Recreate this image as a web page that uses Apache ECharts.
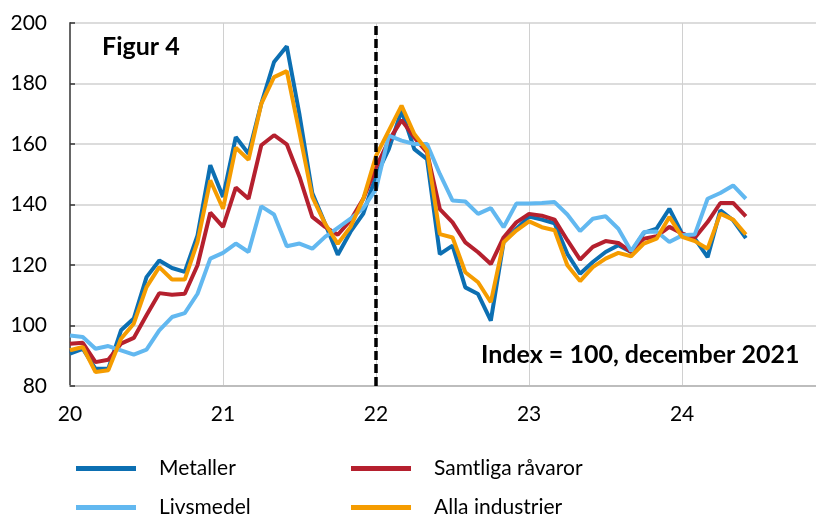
<!DOCTYPE html>
<html><head><meta charset="utf-8">
<script src="https://cdn.jsdelivr.net/npm/echarts@6/dist/echarts.min.js"></script>
<style>html,body{margin:0;padding:0;background:#fff}#c{width:816px;height:519px}</style>
</head><body><div id="c"></div>
<script>
const startYear = 20;
const metaller = [90.7, 92.3, 85.7, 85.7, 98.4, 102.3, 116, 121.5, 119, 117.7, 129.8, 153, 142.5, 162.3, 156.8, 173.3, 187.1, 192.3, 169.6, 143.8, 133.7, 123.4, 131, 137, 149.5, 158.3, 171, 158.3, 155, 123.6, 126.4, 112.6, 110.4, 101.6, 127.5, 131.9, 136, 135, 133.8, 123.7, 117.1, 121, 124.3, 126.5, 124.3, 130.6, 132, 138.6, 130.4, 128.7, 122.6, 138.1, 134.8, 128.9];
const samtliga = [94, 94.3, 87.9, 88.7, 94, 95.9, 103.4, 110.7, 110.2, 110.5, 119.9, 137.3, 132.6, 145.6, 141.9, 159.6, 162.9, 159.9, 149.1, 135.9, 132.6, 130, 134.8, 141.9, 152.3, 161.1, 167.9, 162.2, 157.2, 138.5, 134.1, 127.5, 124.2, 120.3, 129.1, 134.1, 136.9, 136.3, 135, 128.2, 121.8, 126, 127.9, 127.3, 124.3, 128.7, 129.5, 132.6, 130.4, 129, 134.2, 140.5, 140.5, 136.1];
const livsmedel = [96.7, 96.2, 92.3, 93.2, 91.8, 90.4, 92, 98.4, 102.8, 104.1, 110.5, 122.1, 124, 127.1, 124.3, 139.4, 136.7, 126.2, 127.1, 125.4, 129.3, 132.3, 135.3, 138.8, 145.1, 162.8, 161.1, 160, 160, 150.1, 141.3, 141, 136.9, 138.8, 132.5, 140.3, 140.3, 140.5, 140.8, 136.7, 131.2, 135.3, 136.1, 132, 124.6, 130.9, 131.1, 127.6, 129.8, 130.1, 141.9, 143.8, 146.3, 141.9];
const alla = [91.8, 92.9, 84.6, 85.2, 95.6, 100.6, 112.7, 119.3, 115.2, 115.2, 127.6, 148, 138.6, 158.8, 154.8, 173.3, 182.1, 184.1, 163.6, 142.5, 133.7, 127, 132.6, 141.9, 156.1, 164.4, 172.7, 163.3, 157.8, 130.2, 129.1, 117.6, 114.3, 107.7, 127.5, 131.4, 134.4, 132.5, 131.5, 119.9, 114.7, 119.3, 122.1, 124, 122.9, 127.1, 128.7, 135.9, 129.3, 127.9, 125.4, 137, 135, 130.1];
const seriesNames = ['Metaller', 'Samtliga råvaror', 'Livsmedel', 'Alla industrier'];
const yTicks = [80, 100, 120, 140, 160, 180, 200];
const xTicks = [20, 21, 22, 23, 24];
const markerYear = 22;
const figTitle = 'Figur 4';
const note = 'Index = 100, december 2021';

const FONT = 'Lato, "Open Sans", sans-serif';
const colors = ['#0C6FB2', '#B5202E', '#62B8F0', '#F59C00'];
const toPairs = arr => arr.map((v, i) => [startYear + i / 12, v]);
const dataSets = [metaller, samtliga, livsmedel, alla];

const chart = echarts.init(document.getElementById('c'), null, {renderer: 'canvas'});
const series = dataSets.map((d, k) => ({
  name: seriesNames[k], type: 'line', data: toPairs(d), showSymbol: false, symbol: 'none',
  lineStyle: {width: 4, color: colors[k]}, itemStyle: {color: colors[k]},
  z: 2 + k, animation: false
}));
series[0].markLine = {
  silent: true, symbol: 'none', animation: false,
  label: {show: false},
  lineStyle: {color: '#000', type: [9, 4], width: 3.5},
  data: [{xAxis: markerYear}], z: 10
};
const legendPos = [[71, 453], [346, 453], [71, 492], [346, 492]];
const legends = seriesNames.map((n, k) => ({
  data: [n], left: legendPos[k][0], top: legendPos[k][1],
  icon: 'rect', itemWidth: 60, itemHeight: 5,
  textStyle: {fontSize: 21, fontFamily: FONT, color: '#000', padding: [0, 0, 0, 18]}
}));
chart.setOption({
  animation: false,
  grid: {left: 70, right: 0, top: 23, bottom: 133},
  xAxis: {
    type: 'value', min: xTicks[0], max: 24.875, interval: 1,
    axisLine: {show: true, lineStyle: {color: '#bdbdbd', width: 2}},
    axisTick: {show: false},
    splitLine: {show: true, lineStyle: {color: '#d0d0d0', width: 1}},
    axisLabel: {
      color: '#000', fontSize: 21, fontFamily: FONT, margin: 18,
      formatter: v => (xTicks.indexOf(v) >= 0 ? String(v) : ''),
      showMaxLabel: false
    }
  },
  yAxis: {
    type: 'value', min: yTicks[0], max: yTicks[yTicks.length - 1], interval: 20,
    axisLine: {show: true, lineStyle: {color: '#666', width: 2}},
    axisTick: {show: true, inside: true, length: 5, lineStyle: {color: '#333', width: 1.5}},
    splitLine: {show: true, lineStyle: {color: '#d0d0d0', width: 1.5}},
    axisLabel: {color: '#000', fontSize: 21, fontFamily: FONT, margin: 23}
  },
  legend: legends,
  graphic: [
    {type: 'text', left: 102, top: 34, style: {text: figTitle, font: 'bold 25px ' + FONT, fill: '#000'}},
    {type: 'text', left: 481, top: 342, style: {text: note, font: 'bold 25px ' + FONT, fill: '#000'}}
  ],
  series: series
});
</script></body></html>
